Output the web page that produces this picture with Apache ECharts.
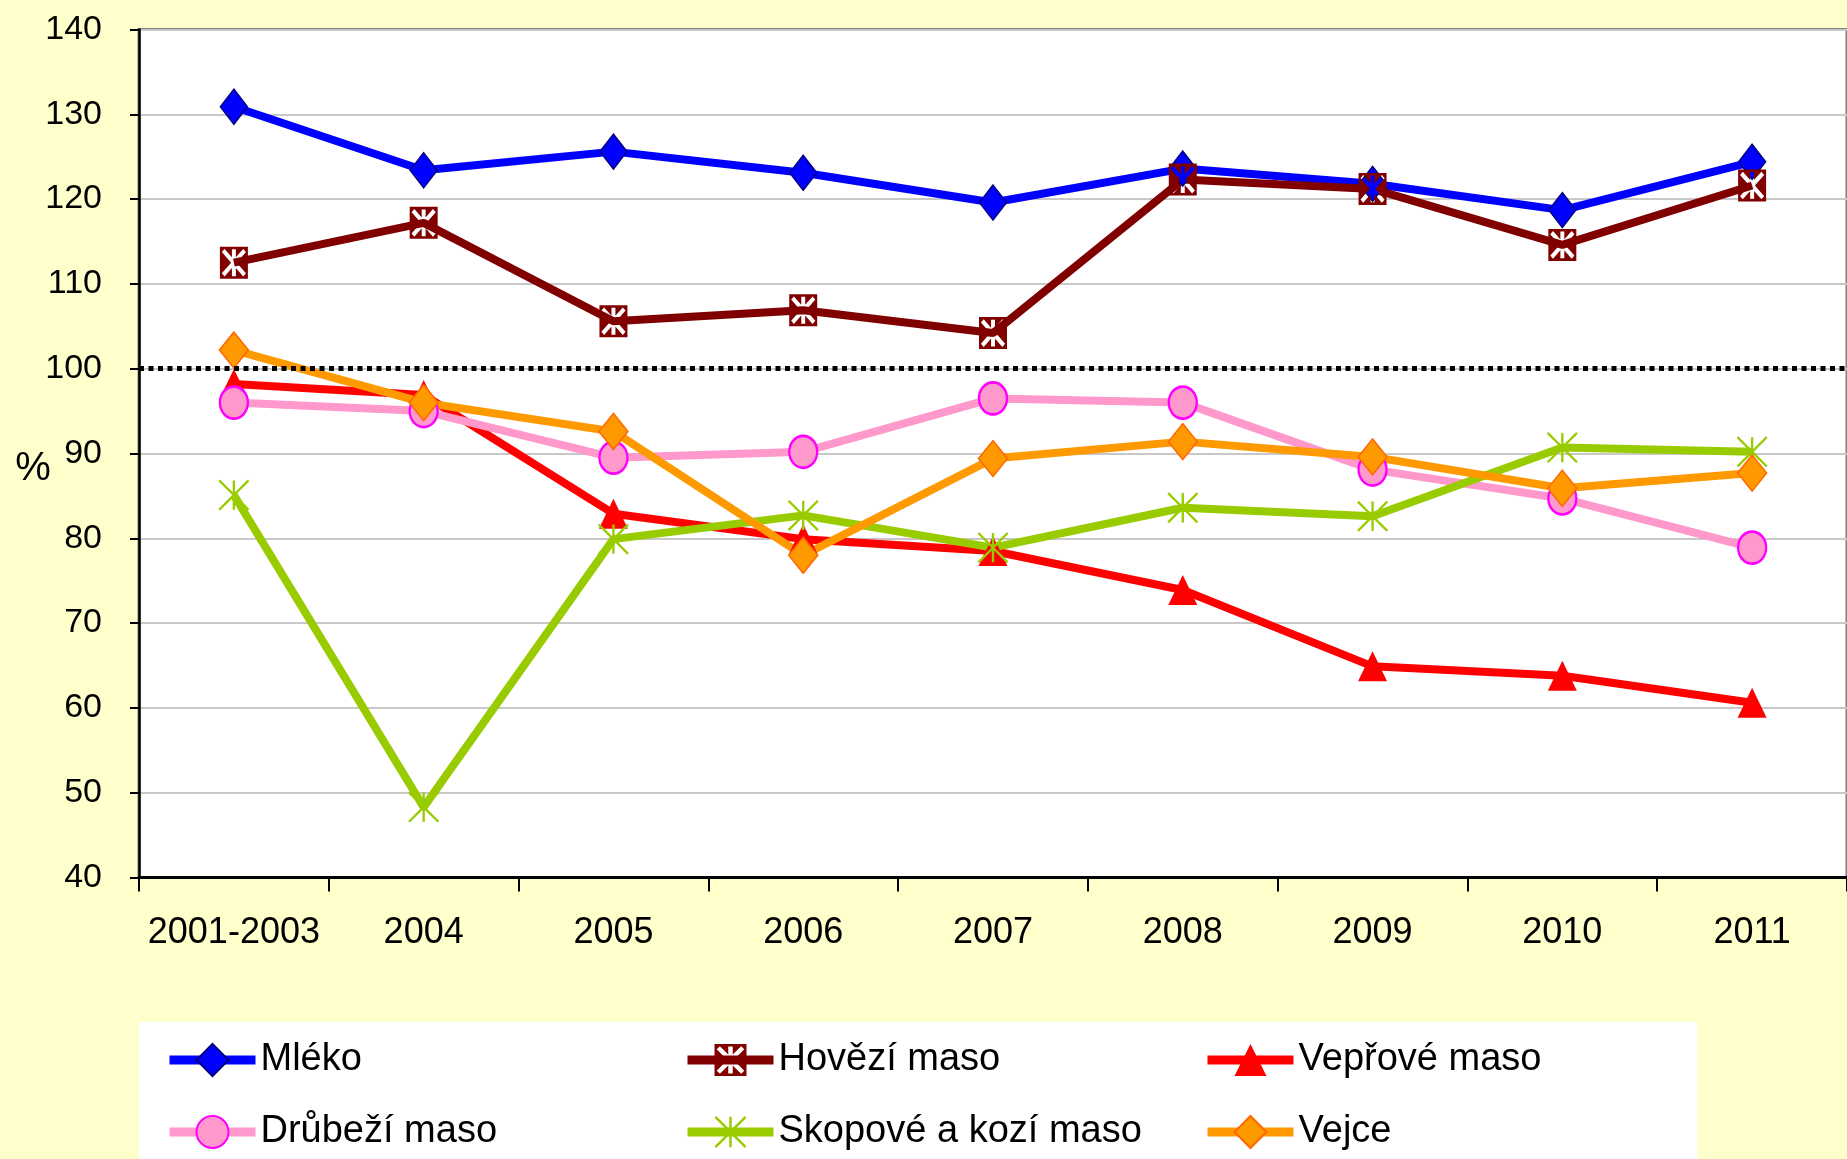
<!DOCTYPE html>
<html><head><meta charset="utf-8">
<script src="https://cdn.jsdelivr.net/npm/echarts@6/dist/echarts.min.js"></script>
<style>html,body{margin:0;padding:0;background:#FFFFCC;overflow:hidden}#c{width:1847px;height:1159px;}</style>
</head><body><div id="c"></div>
<script>
const categories = ['2001-2003','2004','2005','2006','2007','2008','2009','2010','2011'];
const seriesNames = ['Mléko','Hovězí maso','Vepřové maso','Drůbeží maso','Skopové a kozí maso','Vejce'];
const mleko    = [130.9, 123.4, 125.6, 123.1, 119.6, 123.6, 121.8, 118.7, 124.4];
const hovezi   = [112.5, 117.2, 105.6, 106.9, 104.2, 122.3, 121.2, 114.6, 121.6];
const veprove  = [98.2, 96.9, 82.9, 79.9, 78.5, 73.9, 64.9, 63.8, 60.6];
const drubezi  = [96.0, 95.0, 89.5, 90.2, 96.5, 96.0, 88.1, 84.7, 78.9];
const skopove  = [85.1, 48.3, 79.9, 82.7, 78.9, 83.6, 82.6, 90.7, 90.2];
const vejce    = [102.2, 96.0, 92.6, 78.0, 89.4, 91.4, 89.6, 85.9, 87.7];
const yMin = 40, yMax = 140, yStep = 10;
const referenceLevel = 100;

const FONT = "'Liberation Sans',Arial,sans-serif";

function asteriskPoints(lv, ld, w) {
  const arms = [[-135, ld], [-90, lv], [-45, ld], [45, ld], [90, lv], [135, ld]];
  const pts = [];
  for (let i = 0; i < arms.length; i++) {
    const a = arms[i][0], L = arms[i][1];
    const r = a * Math.PI / 180;
    const dx = Math.cos(r), dy = Math.sin(r), px = -dy, py = dx;
    pts.push([L*dx - w*px, L*dy - w*py]);
    pts.push([L*dx + w*px, L*dy + w*py]);
    let a2 = arms[(i+1) % arms.length][0];
    if (a2 <= a) a2 += 360;
    const g = (a2 - a) * Math.PI / 180;
    const b = (a + a2) / 2 * Math.PI / 180;
    const d = w / Math.sin(g/2);
    pts.push([d*Math.cos(b), d*Math.sin(b)]);
  }
  return pts;
}
function polyPath(pts) {
  return 'M' + pts.map(p => p[0].toFixed(2) + ' ' + p[1].toFixed(2)).join(' L') + ' Z';
}
const starPts = asteriskPoints(42, 54, 7);
const hoveziSymbol = 'path://M-50 -50 L50 -50 L50 50 L-50 50 Z ' + polyPath(starPts.slice().reverse());
const hoveziOverlay = 'path://' + polyPath(starPts);
const skopoveSymbol = 'path://' + polyPath(asteriskPoints(50, 70.7, 4));

const chart = echarts.init(document.getElementById('c'), null, {renderer: 'canvas'});

function lineSeries(name, data, color, symbol, size, fill, border, bw) {
  return {
    name, type: 'line', data, symbol, symbolSize: size,
    lineStyle: {color, width: 8},
    itemStyle: {color: fill, borderColor: border, borderWidth: bw, opacity: 1},
    emphasis: {disabled: true}, animation: false
  };
}

const legendPos = [[165, 1041], [683, 1041], [1203, 1041], [165, 1113], [683, 1113], [1203, 1113]];

chart.setOption({
  backgroundColor: '#FFFFCC',
  animation: false,
  grid: {left: 139, top: 29.5, right: -8, bottom: 281.5, show: true, backgroundColor: '#FFFFFF', borderColor: '#808080', borderWidth: 3},
  xAxis: {
    type: 'category', data: categories, boundaryGap: true,
    axisLine: {lineStyle: {color: '#000', width: 3}},
    axisTick: {show: true, interval: 0, length: 14, lineStyle: {color: '#000', width: 2}},
    axisLabel: {interval: 0, margin: 38, color: '#000', fontSize: 36, fontFamily: FONT},
    splitLine: {show: false}
  },
  yAxis: {
    type: 'value', min: yMin, max: yMax, interval: yStep,
    axisLine: {show: true, lineStyle: {color: '#000', width: 2.5}},
    axisTick: {show: true, length: 9, lineStyle: {color: '#000', width: 2}},
    axisLabel: {margin: 37, color: '#000', fontSize: 34, fontFamily: FONT},
    splitLine: {show: true, lineStyle: {color: '#C8C8C8', width: 2}}
  },
  legend: seriesNames.map((n, i) => ({
    data: [n], left: legendPos[i][0], top: legendPos[i][1], padding: 0,
    itemWidth: 86, itemHeight: 40, itemGap: 5, selectedMode: false,
    lineStyle: {width: 9},
    textStyle: {fontSize: 38, fontFamily: FONT, color: '#000', padding: [0, 0, 0, 0]}
  })),
  graphic: [
    {type: 'rect', left: 139, top: 1022, shape: {width: 1558, height: 140}, style: {fill: '#FFFFFF'}, z: 0, silent: true},
    {type: 'text', x: 33, y: 469, style: {text: '%', font: '40px ' + FONT, fill: '#000', textAlign: 'center', textVerticalAlign: 'middle'}, silent: true}
  ],
  series: [
    lineSeries(seriesNames[0], mleko, '#0000FF', 'diamond', [27, 35], '#0000FF', '#000080', 1.5),
    lineSeries(seriesNames[1], hovezi, '#800000', hoveziSymbol, [28, 32], '#800000', '#800000', 0),
    {name: 'hovezi_x', type: 'scatter', data: hovezi, symbol: hoveziOverlay, symbolSize: [28*0.84, 32*0.84],
     itemStyle: {color: '#FFFFFF', opacity: 1}, emphasis: {disabled: true}, silent: true},
    lineSeries(seriesNames[2], veprove, '#FF0000', 'triangle', [29, 30], '#FF0000', '#FF0000', 0),
    lineSeries(seriesNames[3], drubezi, '#FF99CC', 'circle', [28, 32], '#FF99CC', '#FF00FF', 2.5),
    lineSeries(seriesNames[4], skopove, '#99CC00', skopoveSymbol, [31, 31], '#99CC00', '#99CC00', 0),
    Object.assign(lineSeries(seriesNames[5], vejce, '#FF9900', 'diamond', [29, 36], '#FF9900', '#FF6600', 1.5), {
      markLine: {silent: true, symbol: 'none', label: {show: false}, animation: false,
        lineStyle: {color: '#000', type: [5, 4.5], width: 5, cap: 'butt'},
        data: [{yAxis: referenceLevel}]}
    })
  ]
});
</script></body></html>
